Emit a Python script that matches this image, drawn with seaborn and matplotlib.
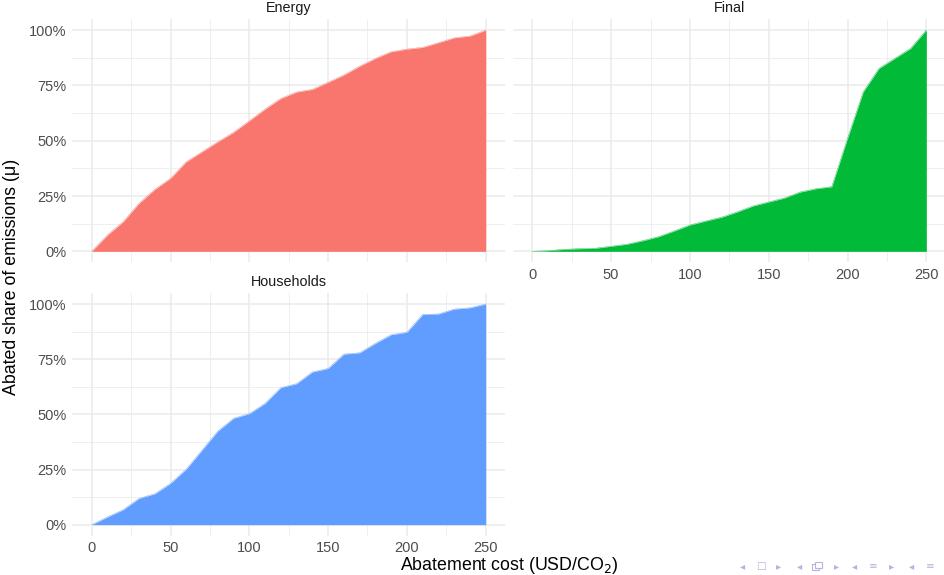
import numpy as np
import pandas as pd
import matplotlib
matplotlib.use("Agg")
import matplotlib.pyplot as plt
import seaborn as sns
from matplotlib.patches import Rectangle
from matplotlib.ticker import FuncFormatter, MultipleLocator

# Abatement cost grid (USD/CO2)
cost = [0, 10, 20, 30, 40, 50, 60, 70, 80, 90, 100, 110, 120,
        130, 140, 150, 160, 170, 180, 190, 200, 210, 220, 230, 240, 250]

# Cumulative abated share of emissions (%) by sector
energy = [0, 7.4, 13.4, 21.7, 28.0, 33.0, 40.5, 45.0, 49.5, 53.8, 59.0, 64.3, 69.1,
          72.0, 73.2, 76.4, 79.7, 83.7, 87.2, 90.2, 91.4, 92.2, 94.3, 96.5, 97.3, 100]
final = [0, 0.3, 0.9, 1.2, 1.4, 2.3, 3.2, 4.8, 6.6, 9.2, 11.9, 13.7, 15.4,
         17.8, 20.5, 22.3, 24.1, 26.8, 28.3, 29.2, 51.0, 72.1, 82.7, 87.2, 91.7, 100]
households = [0, 3.5, 6.8, 11.9, 14.0, 18.7, 25.2, 33.8, 42.4, 48.2, 50.3, 55.0, 62.1,
              63.9, 69.2, 70.8, 77.3, 77.9, 82.2, 86.1, 87.2, 95.3, 95.5, 97.7, 98.3, 100]

sectors = ["Energy", "Final", "Households"]
colors = ["#F8766D", "#00BA38", "#619CFF"]

df = pd.DataFrame({
    "cost": cost * 3,
    "share": energy + final + households,
    "sector": np.repeat(sectors, len(cost)),
})

sns.set_theme(style="white")
plt.rcParams["font.family"] = ["Liberation Sans", "DejaVu Sans"]

W, H = 945, 575
fig = plt.figure(figsize=(W / 100, H / 100), dpi=100)
fig.patch.set_facecolor("white")


def box(left, top, right, bottom):
    return [left / W, 1 - bottom / H, (right - left) / W, (bottom - top) / H]


panels = {
    "Energy": box(72, 19, 505.4, 262.4),
    "Final": box(512.6, 19, 946, 262.4),
    "Households": box(72, 293, 505.4, 535.7),
}
show_x = {"Energy": False, "Final": True, "Households": True}
show_y = {"Energy": True, "Final": False, "Households": True}

tick_color = "#4D4D4D"
grid_color = "#EBEBEB"

for sector, color in zip(sectors, colors):
    ax = fig.add_axes(panels[sector])
    sub = df[df["sector"] == sector]
    ax.fill_between(sub["cost"], 0, sub["share"], color=color, linewidth=0, zorder=2)
    sns.lineplot(data=sub, x="cost", y="share", color=color, linewidth=0.3, ax=ax, zorder=3)

    ax.set_xlim(-12.5, 262.5)
    ax.set_ylim(-5, 105)
    ax.xaxis.set_major_locator(MultipleLocator(50))
    ax.xaxis.set_minor_locator(MultipleLocator(25))
    ax.yaxis.set_major_locator(MultipleLocator(25))
    ax.yaxis.set_minor_locator(MultipleLocator(12.5))
    ax.grid(which="major", color=grid_color, linewidth=1.1, zorder=0)
    ax.grid(which="minor", color=grid_color, linewidth=0.55, zorder=0)
    ax.set_axisbelow(True)
    for s in ax.spines.values():
        s.set_visible(False)
    ax.set_xlabel("")
    ax.set_ylabel("")
    ax.tick_params(which="both", length=0, labelsize=10.5, colors=tick_color, pad=4)
    ax.yaxis.set_major_formatter(FuncFormatter(lambda v, p: f"{v:.0f}%"))
    if not show_x[sector]:
        ax.set_xticklabels([])
    if not show_y[sector]:
        ax.set_yticklabels([])

    b = panels[sector]
    fig.text(b[0] + b[2] / 2, b[1] + b[3] + 4 / H, sector, ha="center", va="bottom",
             fontsize=10.4, color="#1A1A1A")

fig.text(509 / W, 1 - 565 / H, "Abatement cost (USD/CO$_2$)", ha="center", va="center",
         fontsize=12.8, color="black")
fig.text(12 / W, 1 - 277 / H, "Abated share of emissions (μ)", ha="center", va="center",
         rotation=90, fontsize=12.8, color="black")

# Slide navigation glyphs in the lower right corner
nav_color = "#B4B4DC"
nav_y = 1 - 566 / H
nav = [(743, "◂"), (761, "□"), (779, "▸"), (800, "◂"), (837, "▸"),
       (855, "◂"), (873, "≡"), (892, "▸"), (912, "◂"), (930, "≡")]
for px, g in nav:
    fig.text(px / W, nav_y, g, ha="center", va="center", fontsize=7.5,
             color=nav_color, family=["DejaVu Sans"])
# stacked-frames icon
for dx, dy in [(0, 0), (2.5, 2.5)]:
    fig.add_artist(Rectangle(((812 + dx) / W, (1 - 570 / H) + dy / H), 7 / W, 6 / H,
                             transform=fig.transFigure, facecolor="white",
                             edgecolor=nav_color, linewidth=0.8))

fig.savefig("out.png", dpi=100)
